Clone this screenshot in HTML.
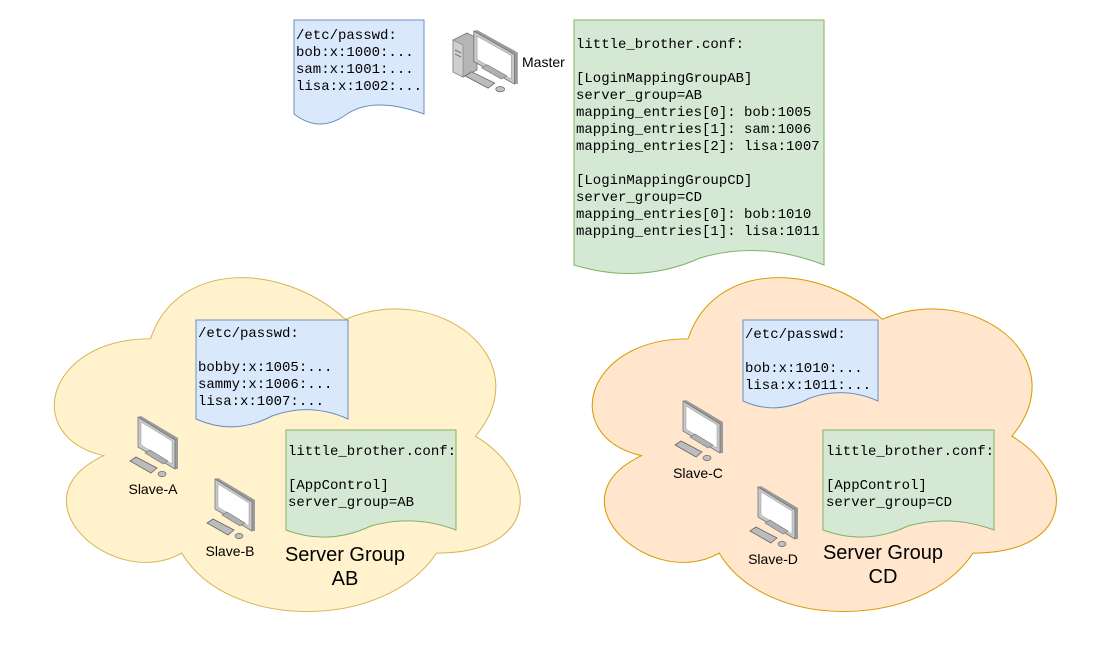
<!DOCTYPE html>
<html><head><meta charset="utf-8"><style>
html,body{margin:0;padding:0;background:#fff;}
svg{display:block}
.m{font-family:"Liberation Mono",monospace;font-size:14px;fill:#000}
.s{font-family:"Liberation Sans",sans-serif;fill:#000}
</style></head><body>
<svg width="1099" height="651" viewBox="0 0 1099 651" xmlns="http://www.w3.org/2000/svg">
<defs>
<path id="cloud" d="M 25 20 C 5 20 0 40 16 44 C -2 53 18 72 31 64 C 40 80 70 80 80 64 C 100 64 100 48 87.5 40 C 100 24 80 8 62.5 16 C 50 4 30 4 25 20 Z"/>
<g id="pc">
  <polygon points="8,1 11,0 48,22 48,53 45,53 8,31" fill="#9a9a9a"/>
  <polygon points="8,1 45,24 45,53 8,31" fill="#c8c8c8" stroke="#777" stroke-width="0.8"/>
  <polygon points="11,6 42,25 42,48 11,29" fill="#fff" stroke="#999" stroke-width="0.5"/>
  <polygon points="15,37 20,34 38,45 33,48" fill="#b0b0b0" stroke="#777" stroke-width="0.6"/>
  <polygon points="0,45 6,41 27,52 21,57" fill="#bcbcbc" stroke="#666" stroke-width="0.8"/>
  <ellipse cx="32" cy="58" rx="4" ry="2.6" fill="#c0c0c0" stroke="#666" stroke-width="0.7"/>
</g>
</defs>

<!-- clouds -->
<g transform="translate(20.5,241.4) scale(5.2,4.87)"><use href="#cloud" fill="#fff2cc" stroke="#d6b656" stroke-width="0.2"/></g>
<g transform="translate(558.6,241.4) scale(5.18,4.87)"><use href="#cloud" fill="#ffe6cc" stroke="#d79b00" stroke-width="0.2"/></g>

<!-- top blue doc -->
<path d="M294 20 H424 V114 Q374 96 347 114 Q320 134 294 114 Z" fill="#dae8fc" stroke="#6c8ebf"/>
<text class="m" x="296" y="39">/etc/passwd:</text>
<text class="m" x="296" y="56">bob:x:1000:...</text>
<text class="m" x="296" y="73">sam:x:1001:...</text>
<text class="m" x="296" y="90">lisa:x:1002:...</text>

<!-- master pc -->
<g transform="translate(453,30)">
  <polygon points="0,10 14,3 24,8 24,40 10,47 0,42" fill="#b5b5b5" stroke="#777" stroke-width="0.8"/>
  <polygon points="0,10 10,15 10,47 0,42" fill="#cfcfcf" stroke="#777" stroke-width="0.6"/>
  <line x1="2" y1="20" x2="8" y2="23" stroke="#777"/><line x1="2" y1="24" x2="8" y2="27" stroke="#777"/>
</g>
<g transform="translate(465,30) scale(1.1,1.02)"><use href="#pc"/></g>
<text class="s" x="522" y="67" font-size="14">Master</text>

<!-- master green doc -->
<path d="M574 20 H824 V265 Q760 240 700 258 Q640 285 574 265 Z" fill="#d5e8d4" stroke="#82b366"/>
<text class="m" x="576" y="48">little_brother.conf:</text>
<text class="m" x="576" y="82">[LoginMappingGroupAB]</text>
<text class="m" x="576" y="99">server_group=AB</text>
<text class="m" x="576" y="116">mapping_entries[0]: bob:1005</text>
<text class="m" x="576" y="133">mapping_entries[1]: sam:1006</text>
<text class="m" x="576" y="150">mapping_entries[2]: lisa:1007</text>
<text class="m" x="576" y="184">[LoginMappingGroupCD]</text>
<text class="m" x="576" y="201">server_group=CD</text>
<text class="m" x="576" y="218">mapping_entries[0]: bob:1010</text>
<text class="m" x="576" y="235">mapping_entries[1]: lisa:1011</text>

<!-- AB blue -->
<path d="M196 320 H348 V419 Q310 402 272 416 Q234 436 196 419 Z" fill="#dae8fc" stroke="#6c8ebf"/>
<text class="m" x="198" y="337">/etc/passwd:</text>
<text class="m" x="198" y="371">bobby:x:1005:...</text>
<text class="m" x="198" y="388">sammy:x:1006:...</text>
<text class="m" x="198" y="405">lisa:x:1007:...</text>

<!-- AB green -->
<path d="M286 430 H456 V530 Q414 514 371 526 Q328 546 286 530 Z" fill="#d5e8d4" stroke="#82b366"/>
<text class="m" x="288" y="455">little_brother.conf:</text>
<text class="m" x="288" y="489">[AppControl]</text>
<text class="m" x="288" y="506">server_group=AB</text>

<!-- CD blue -->
<path d="M743 320 H878 V401 Q844 386 810 398 Q776 416 743 401 Z" fill="#dae8fc" stroke="#6c8ebf"/>
<text class="m" x="745" y="338">/etc/passwd:</text>
<text class="m" x="745" y="372">bob:x:1010:...</text>
<text class="m" x="745" y="389">lisa:x:1011:...</text>

<!-- CD green -->
<path d="M823 430 H994 V530 Q951 514 908 526 Q866 546 823 530 Z" fill="#d5e8d4" stroke="#82b366"/>
<text class="m" x="826" y="455">little_brother.conf:</text>
<text class="m" x="826" y="489">[AppControl]</text>
<text class="m" x="826" y="506">server_group=CD</text>

<!-- slaves -->
<g transform="translate(130,416)"><use href="#pc"/></g>
<text class="s" x="153" y="494" font-size="14" text-anchor="middle">Slave-A</text>
<g transform="translate(207,478)"><use href="#pc"/></g>
<text class="s" x="230" y="556" font-size="14" text-anchor="middle">Slave-B</text>
<g transform="translate(675,400)"><use href="#pc"/></g>
<text class="s" x="698" y="478" font-size="14" text-anchor="middle">Slave-C</text>
<g transform="translate(750,486)"><use href="#pc"/></g>
<text class="s" x="773" y="564" font-size="14" text-anchor="middle">Slave-D</text>

<text class="s" x="345" y="561" font-size="20" text-anchor="middle">Server Group</text>
<text class="s" x="345" y="585" font-size="20" text-anchor="middle">AB</text>
<text class="s" x="883" y="559" font-size="20" text-anchor="middle">Server Group</text>
<text class="s" x="883" y="583" font-size="20" text-anchor="middle">CD</text>
</svg>
</body></html>
